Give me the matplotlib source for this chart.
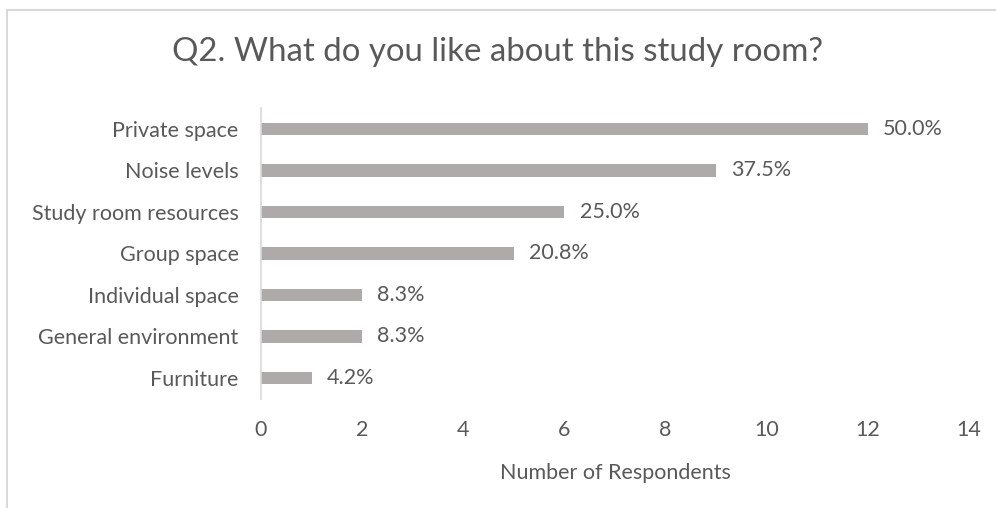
"""Q2 study room survey: horizontal bar chart of respondent counts."""

import matplotlib

matplotlib.use("Agg")
import matplotlib.pyplot as plt
from matplotlib.patches import Rectangle

plt.rcParams["font.family"] = ["Lato", "DejaVu Sans"]

# data (top to bottom)
categories = [
    "Private space",
    "Noise levels",
    "Study room resources",
    "Group space",
    "Individual space",
    "General environment",
    "Furniture",
]
respondents = [12, 9, 6, 5, 2, 2, 1]
pct_labels = ["50.0%", "37.5%", "25.0%", "20.8%", "8.3%", "8.3%", "4.2%"]
x_ticks = [0, 2, 4, 6, 8, 10, 12, 14]

TEXT = "#595959"
BAR = "#aeaaaa"
LINE = "#d9d9d9"
FS = 15.5

fig = plt.figure(figsize=(9.96, 5.08), dpi=100)
ax = fig.add_axes([0.2620, 0.2151, 0.7109, 0.5718])

pos = list(range(len(categories)))
ax.barh(pos, respondents, height=0.29, color=BAR)
for y, v, lab in zip(pos, respondents, pct_labels):
    ax.annotate(lab, (v, y), xytext=(11, 0), textcoords="offset points",
                va="center", ha="left", fontsize=FS, color=TEXT)

ax.set_xlim(0, 14)
ax.set_ylim(len(categories) - 0.5, -0.5)
ax.set_xticks(x_ticks)
ax.set_yticks(pos)
ax.set_yticklabels(categories)
ax.tick_params(axis="both", length=0, labelsize=FS, labelcolor=TEXT)
ax.tick_params(axis="x", pad=15)
ax.tick_params(axis="y", pad=16)

for side in ("top", "right", "bottom"):
    ax.spines[side].set_visible(False)
ax.spines["left"].set_color(LINE)
ax.spines["left"].set_linewidth(1.2)

ax.set_xlabel("Number of Respondents", fontsize=FS, color=TEXT, labelpad=17)
fig.text(0.5, 1 - 52 / 508, "Q2. What do you like about this study room?",
         ha="center", va="center", fontsize=23.8, color=TEXT)

# chart border (runs off the right and bottom of the picture)
fig.add_artist(Rectangle((6.5 / 996, -0.05), 1.1, 1.05 - 10.5 / 508,
                         transform=fig.transFigure, fill=False,
                         edgecolor=LINE, linewidth=1.5))

fig.savefig("out.png", dpi=100, facecolor="white")
